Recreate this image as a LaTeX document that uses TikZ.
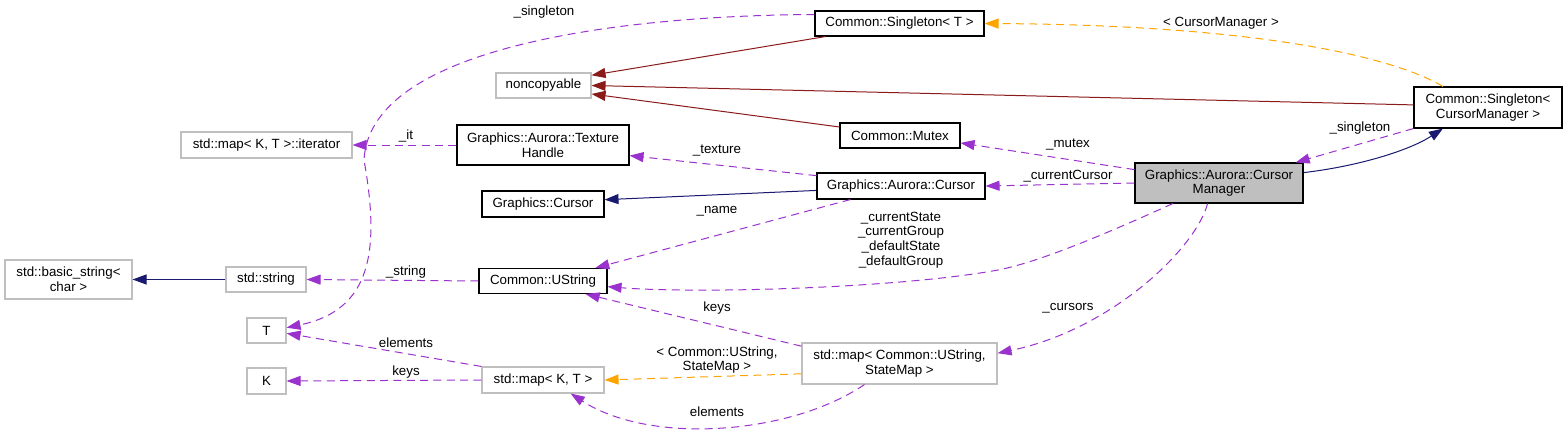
\documentclass[tikz,border=0pt]{standalone}
\usepackage{fontspec}
\setmainfont{Liberation Sans}
\usetikzlibrary{arrows.meta}

\definecolor{usepurple}{HTML}{9A32CD}
\definecolor{tmplorange}{HTML}{FFA500}
\definecolor{privred}{HTML}{8B1A1A}
\definecolor{pubblue}{HTML}{191970}
\definecolor{boxgray}{HTML}{BFBFBF}

\tikzset{
  cls/.style={draw=black,fill=white,line width=0.8pt,inner sep=0pt,align=center},
  ext/.style={cls,draw=boxgray},
  tipped/.style={-{Triangle[length=10.5pt,width=7.5pt]},line width=0.75pt},
  inh/.style={tipped,draw=privred},
  pub/.style={tipped,draw=pubblue},
  member/.style={tipped,draw=usepurple,dash pattern=on 6pt off 4pt},
  tmpl/.style={tipped,draw=tmplorange,dash pattern=on 6pt off 4pt}
}

\begin{document}
\begin{tikzpicture}[x=0.75pt,y=-0.75pt,font=\fontsize{10}{11}\selectfont]
\useasboundingbox (0,0) rectangle (1565,435);

\node[cls,minimum width=126.75pt,minimum height=18.75pt] (singT) at (899.5,23.5) {Common::Singleton< T >};
\node[ext,minimum width=71.25pt,minimum height=18.75pt] (noncop) at (543.5,85.5) {noncopyable};
\node[ext,minimum width=128.25pt,minimum height=19.5pt] (iter) at (266.5,145) {std::map< K, T >::iterator};
\node[cls,minimum width=129pt,minimum height=30pt] (texh) at (543,145) {Graphics::Aurora::Texture\\Handle};
\node[cls,minimum width=90pt,minimum height=18.75pt] (mutex) at (900,135.5) {Common::Mutex};
\node[cls,minimum width=91.5pt,minimum height=19.5pt] (gcur) at (543,204) {Graphics::Cursor};
\node[cls,minimum width=126pt,minimum height=19.5pt] (gacur) at (901,186) {Graphics::Aurora::Cursor};
\node[cls,minimum width=111pt,minimum height=30.75pt] (singCM) at (1488,107.5) {Common::Singleton<\\CursorManager >};
\node[cls,fill=boxgray,minimum width=126pt,minimum height=30pt] (cm) at (1219,183) {Graphics::Aurora::Cursor\\Manager};
\node[ext,minimum width=95.25pt,minimum height=29.25pt] (bstr) at (68.5,279.5) {std::basic\_string<\\char >};
\node[ext,minimum width=60pt,minimum height=18.75pt] (sstr) at (266,279.5) {std::string};
\node[cls,minimum width=96pt,minimum height=18.75pt] (ustr) at (543,281) {Common::UString};
\node[ext,minimum width=29.25pt,minimum height=18.75pt] (tpar) at (266.5,330.5) {T};
\node[ext,minimum width=29.25pt,minimum height=19.5pt] (kpar) at (266.5,381) {K};
\node[ext,minimum width=91.5pt,minimum height=19.5pt] (mapKT) at (543,380) {std::map< K, T >};
\node[ext,minimum width=146.25pt,minimum height=30.75pt] (mapUS) at (899.5,363.5) {std::map< Common::UString,\\StateMap >};

\draw[inh] (singT.190) -- (noncop.12);
\draw[inh] (singCM.178) -- (noncop.east);
\draw[inh] (mutex.172) -- (noncop.-10);
\draw[tmpl] (singCM.155) .. controls (1390,55) and (1250,25) .. (singT.east);
\draw[pub] (cm.7) .. controls (1360,166) and (1410,150) .. (singCM.205);
\draw[member] (singCM.south west) -- (cm.15);
\draw[member] (cm.171) -- (mutex.-7);
\draw[member] (cm.west) -- (gacur.east);
\draw[member] (gacur.173) -- (texh.-7);
\draw[pub] (gacur.183) -- (gcur.4);
\draw[member] (gacur.195) -- (ustr.14);
\draw[member] (cm.204) .. controls (1110,232) and (1040,262) .. (998,270)
  .. controls (900,288) and (700,294) .. (ustr.-5);
\draw[member] (cm.241) .. controls (1195,250) and (1110,330) .. (mapUS.6);
\draw[member] (texh.west) -- (iter.east);
\draw[member] (singT.174) .. controls (650,15) and (370,40) .. (364,160)
  .. controls (380,250) and (372,310) .. (tpar.8);
\draw[pub] (sstr.west) -- (bstr.east);
\draw[member] (ustr.west) -- (sstr.east);
\draw[member] (mapKT.north west) -- (tpar.-8);
\draw[member] (mapKT.west) -- (kpar.east);
\draw[member] (mapUS.170) -- (ustr.-17);
\draw[tmpl] (mapUS.186) -- (mapKT.east);
\draw[member] (mapUS.211) .. controls (790,435) and (650,445) .. (mapKT.-26);

\node (lsingT) at (544,12) {\_singleton};
\node (lcm) at (1221,23) {< CursorManager >};
\node (lit) at (406,136) {\_it};
\node (ltex) at (717,151) {\_texture};
\node (lmutex) at (1068,145) {\_mutex};
\node (lsingCM) at (1360,128) {\_singleton};
\node (lcur) at (1068,176) {\_currentCursor};
\node (lname) at (717,211) {\_name};
\node[align=center] (lstate) at (901,240) {\_currentState\\\_currentGroup\\\_defaultState\\\_defaultGroup};
\node (lstr) at (406,272) {\_string};
\node (lkeys) at (717,308) {keys};
\node (lcurs) at (1068,308) {\_cursors};
\node (lelem) at (406,343) {elements};
\node[align=center] (ltmpl) at (717,360) {< Common::UString,\\StateMap >};
\node (lkeys2) at (406,372) {keys};
\node (lelem2) at (717,412) {elements};
\end{tikzpicture}
\end{document}
